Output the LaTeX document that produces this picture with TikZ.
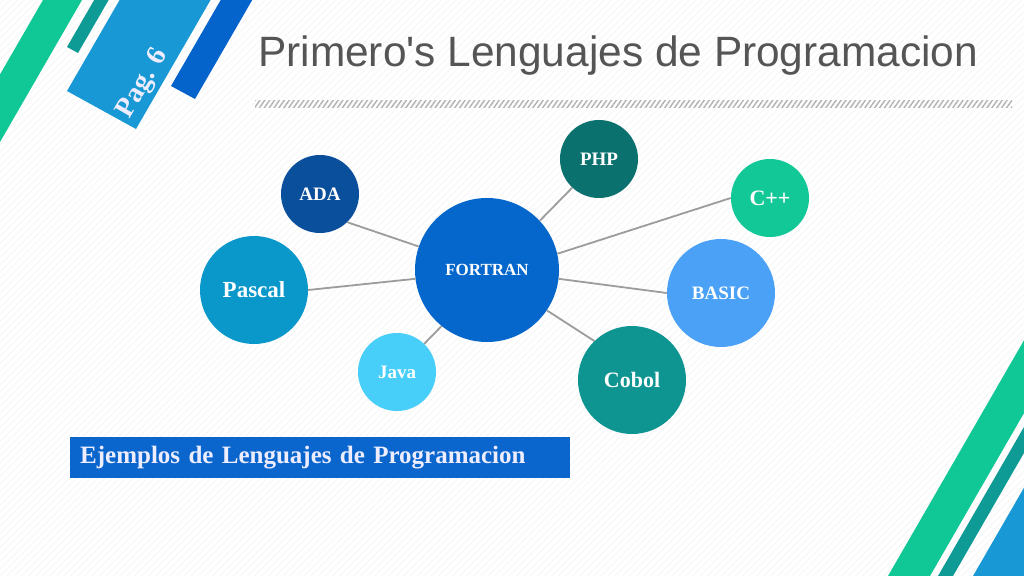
\documentclass[tikz,border=0pt]{standalone}
\usepackage{fontspec}
\setmainfont{Liberation Serif}
\newfontfamily\arialf[Ligatures=TeXOff]{Liberation Sans}
\usetikzlibrary{patterns.meta}
\definecolor{cGreen}{HTML}{10C896}
\definecolor{cTeal}{HTML}{0E9A95}
\definecolor{cLBlue}{HTML}{1898D4}
\definecolor{cDBlue}{HTML}{0563CC}
\definecolor{cADA}{HTML}{0A4F9B}
\definecolor{cFOR}{HTML}{0566CB}
\definecolor{cPAS}{HTML}{0A98CA}
\definecolor{cJAVA}{HTML}{47CEF9}
\definecolor{cPHP}{HTML}{0B716E}
\definecolor{cCPP}{HTML}{12C896}
\definecolor{cBAS}{HTML}{4AA1F6}
\definecolor{cCOB}{HTML}{0E9592}
\definecolor{cSub}{HTML}{0A66CC}
\definecolor{cTitle}{HTML}{555555}
\definecolor{cLine}{HTML}{9C9C9C}
\begin{document}
\begin{tikzpicture}[x=1bp,y=-1bp,
  bub/.style={circle, draw=none, text=white, inner sep=0pt, align=center},
  smallbub/.style={minimum size=78bp},
  bigbub/.style={minimum size=108bp},
  fs/.style={font=\bfseries\fontsize{#1bp}{#1bp}\selectfont},
  conn/.style={draw=cLine, line width=1.8bp}]
\useasboundingbox (0,0) rectangle (1024,576);
\fill[white] (0,0) rectangle (1024,576);
\fill[pattern={Lines[angle=45,distance=5bp,line width=1bp]}, pattern color=black!3] (0,0) rectangle (1024,576);
\begin{scope}
\clip (0,0) rectangle (1024,576);
% top-left stripes
\fill[cGreen] (43,0) -- (82,0) -- (-18,173.2) -- (-57,173.2) -- cycle;
\fill[cTeal] (67,47) -- (78,53) -- (178,-120) -- (167,-126) -- cycle;
\fill[cLBlue] (67,91) -- (136,129) -- (236,-44) -- (167,-82) -- cycle;
\fill[cDBlue] (171,86) -- (195,99) -- (295,-74) -- (271,-87) -- cycle;
% bottom-right stripes
\fill[cGreen] (888,576) -- (930,576) -- (1080,316) -- (1038,316) -- cycle;
\fill[cTeal] (938,576) -- (953,576) -- (1103,316) -- (1088,316) -- cycle;
\fill[cLBlue] (973,576) -- (1100,576) -- (1100,356) -- cycle;
\end{scope}
\node[rotate=60, text=white!93!blue, font=\bfseries\fontsize{28bp}{28bp}\selectfont, inner sep=0pt] (pag) at (143,84) {Pag. 6};
% title
\node[anchor=base west, inner sep=0pt, text=cTitle, font=\arialf\fontsize{42.4bp}{45bp}\selectfont] (title) at (258,67) {Primero's Lenguajes de Programacion};
\fill[pattern={Lines[angle=55,distance=4bp,line width=1.4bp]}, pattern color=black!30] (255,101) rectangle (1012,108);
% bubbles
\node[bub, bigbub, minimum size=144bp, fill=cFOR, fs=17] (fortran) at (487,270) {FORTRAN};
\node[bub, smallbub, fill=cADA, fs=19] (ada) at (320,194) {ADA};
\node[bub, bigbub, fill=cPAS, fs=23] (pascal) at (254,290) {Pascal};
\node[bub, smallbub, fill=cJAVA, fs=19] (java) at (397,372) {Java};
\node[bub, smallbub, fill=cPHP, fs=19] (php) at (599,159) {PHP};
\node[bub, smallbub, fill=cCPP, fs=22] (cpp) at (770,198) {C++};
\node[bub, bigbub, fill=cBAS, fs=19] (basic) at (721,293) {BASIC};
\node[bub, bigbub, fill=cCOB, fs=22] (cobol) at (632,380) {Cobol};
% connectors
\draw[conn] (ada.-46) -- (fortran.161);
\draw[conn] (pascal.0) -- (fortran.187);
\draw[conn] (java.46) -- (fortran.231);
\draw[conn] (php.227) -- (fortran.43);
\draw[conn] (cpp.180) -- (fortran.13.5);
\draw[conn] (basic.180) -- (fortran.-7);
\draw[conn] (cobol.134) -- (fortran.-34);
% subtitle
\node[fill=cSub, anchor=north west, minimum width=500bp, minimum height=41bp, text width=480bp, inner xsep=10bp, inner ysep=0pt, align=left, text=white!93!blue, font=\bfseries\fontsize{25bp}{27bp}\selectfont] (sub) at (70,437) {Ejemplos de Lenguajes de Programacion};
\end{tikzpicture}
\end{document}
